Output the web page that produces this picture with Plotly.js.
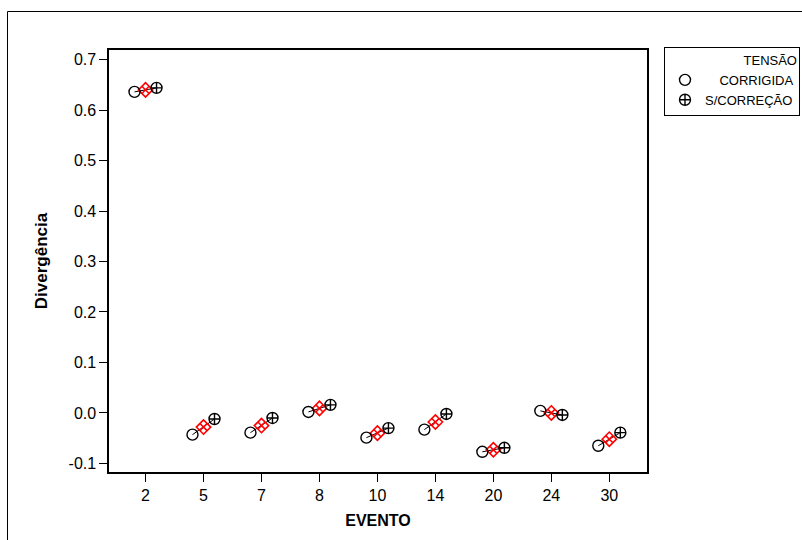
<!DOCTYPE html>
<html>
<head>
<meta charset="utf-8">
<script src="https://cdn.plot.ly/plotly-3.0.1.min.js"></script>
<style>
html,body{margin:0;padding:0;background:#fff;}
#chart{width:802px;height:540px;}
</style>
</head>
<body>
<div id="chart"></div>
<script>
// Data
const eventos = ['2', '5', '7', '8', '10', '14', '20', '24', '30'];
const corrigida = [0.636, -0.043, -0.039, 0.002, -0.049, -0.033, -0.077, 0.004, -0.065];
const semCorrecao = [0.644, -0.012, -0.010, 0.016, -0.030, -0.002, -0.069, -0.004, -0.039];
const media = [0.640, -0.028, -0.025, 0.009, -0.040, -0.018, -0.073, 0.000, -0.052];
const legendTitle = 'TENSÃO';
const nomeCorrigida = 'CORRIGIDA';
const nomeSemCorrecao = 'S/CORREÇÃO';

const off = 0.19; // horizontal dodge of the two series
const idx = eventos.map((_, i) => i);
const nb = n => '\u00A0'.repeat(n);

const traces = [];
// connecting lines for each event
idx.forEach(i => {
  traces.push({
    x: [i - off, i + off], y: [corrigida[i], semCorrecao[i]],
    mode: 'lines', line: {color: '#000', width: 1}, showlegend: false, hoverinfo: 'skip'
  });
});
traces.push({
  x: idx.map(i => i), y: media, mode: 'markers', showlegend: false,
  marker: {symbol: 'diamond-x-open', size: 11, color: '#ff0000', line: {width: 1.6}}
});
traces.push({
  x: idx.map(i => i - off), y: corrigida, mode: 'markers', name: nb(4) + nomeCorrigida,
  marker: {symbol: 'circle-open', size: 11, color: '#000', line: {width: 1.4}}
});
traces.push({
  x: idx.map(i => i + off), y: semCorrecao, mode: 'markers', name: nomeSemCorrecao,
  marker: {symbol: 'circle-cross-open', size: 11, color: '#000', line: {width: 1.4}}
});

const W = 538, H = 422, L = 109, T = 50;
const px = v => (v - L) / W;
const py = v => (T + H - v) / H;

const layout = {
  width: 802, height: 540,
  margin: {l: L, r: 802 - L - W, t: T, b: 540 - T - H, pad: 0, autoexpand: false},
  paper_bgcolor: '#fff', plot_bgcolor: '#fff',
  font: {family: 'Liberation Sans, Arial, sans-serif', color: '#000', size: 16},
  showlegend: true,
  legend: {
    x: px(664), y: py(47), xanchor: 'left', yanchor: 'top',
    bordercolor: '#000', borderwidth: 1, bgcolor: '#fff',
    font: {size: 13, family: 'Liberation Sans, Arial, sans-serif'},
    title: {text: legendTitle, side: 'top right', font: {size: 13}},
    tracegroupgap: 0, itemwidth: 30
  },
  xaxis: {
    range: [-0.63, 8.65], tickmode: 'array', tickvals: idx, ticktext: eventos,
    showgrid: false, zeroline: false, showline: true, mirror: true,
    linecolor: '#000', linewidth: 1.6, ticks: 'outside', ticklen: 8, tickcolor: '#000',
    tickfont: {size: 16},
    title: {text: '<b>EVENTO</b>', font: {size: 16}, standoff: 12}
  },
  yaxis: {
    range: [-0.117, 0.719], tickvals: [-0.1, 0, 0.1, 0.2, 0.3, 0.4, 0.5, 0.6, 0.7],
    ticktext: ['-0.1', '0.0', '0.1', '0.2', '0.3', '0.4', '0.5', '0.6', '0.7'],
    showgrid: false, zeroline: false, showline: true, mirror: true,
    linecolor: '#000', linewidth: 1.6, ticks: 'outside', ticklen: 8, tickcolor: '#000',
    tickfont: {size: 16},
    title: {text: '<b>Divergência</b>', font: {size: 17}, standoff: 16}
  },
  shapes: [{
    type: 'rect', xref: 'paper', yref: 'paper',
    x0: px(7.5), y0: py(560), x1: px(820), y1: py(11.5),
    line: {color: '#000', width: 1}, fillcolor: 'rgba(0,0,0,0)', layer: 'below'
  }]
};

Plotly.newPlot('chart', traces, layout, {displayModeBar: false, staticPlot: true});
</script>
</body>
</html>
